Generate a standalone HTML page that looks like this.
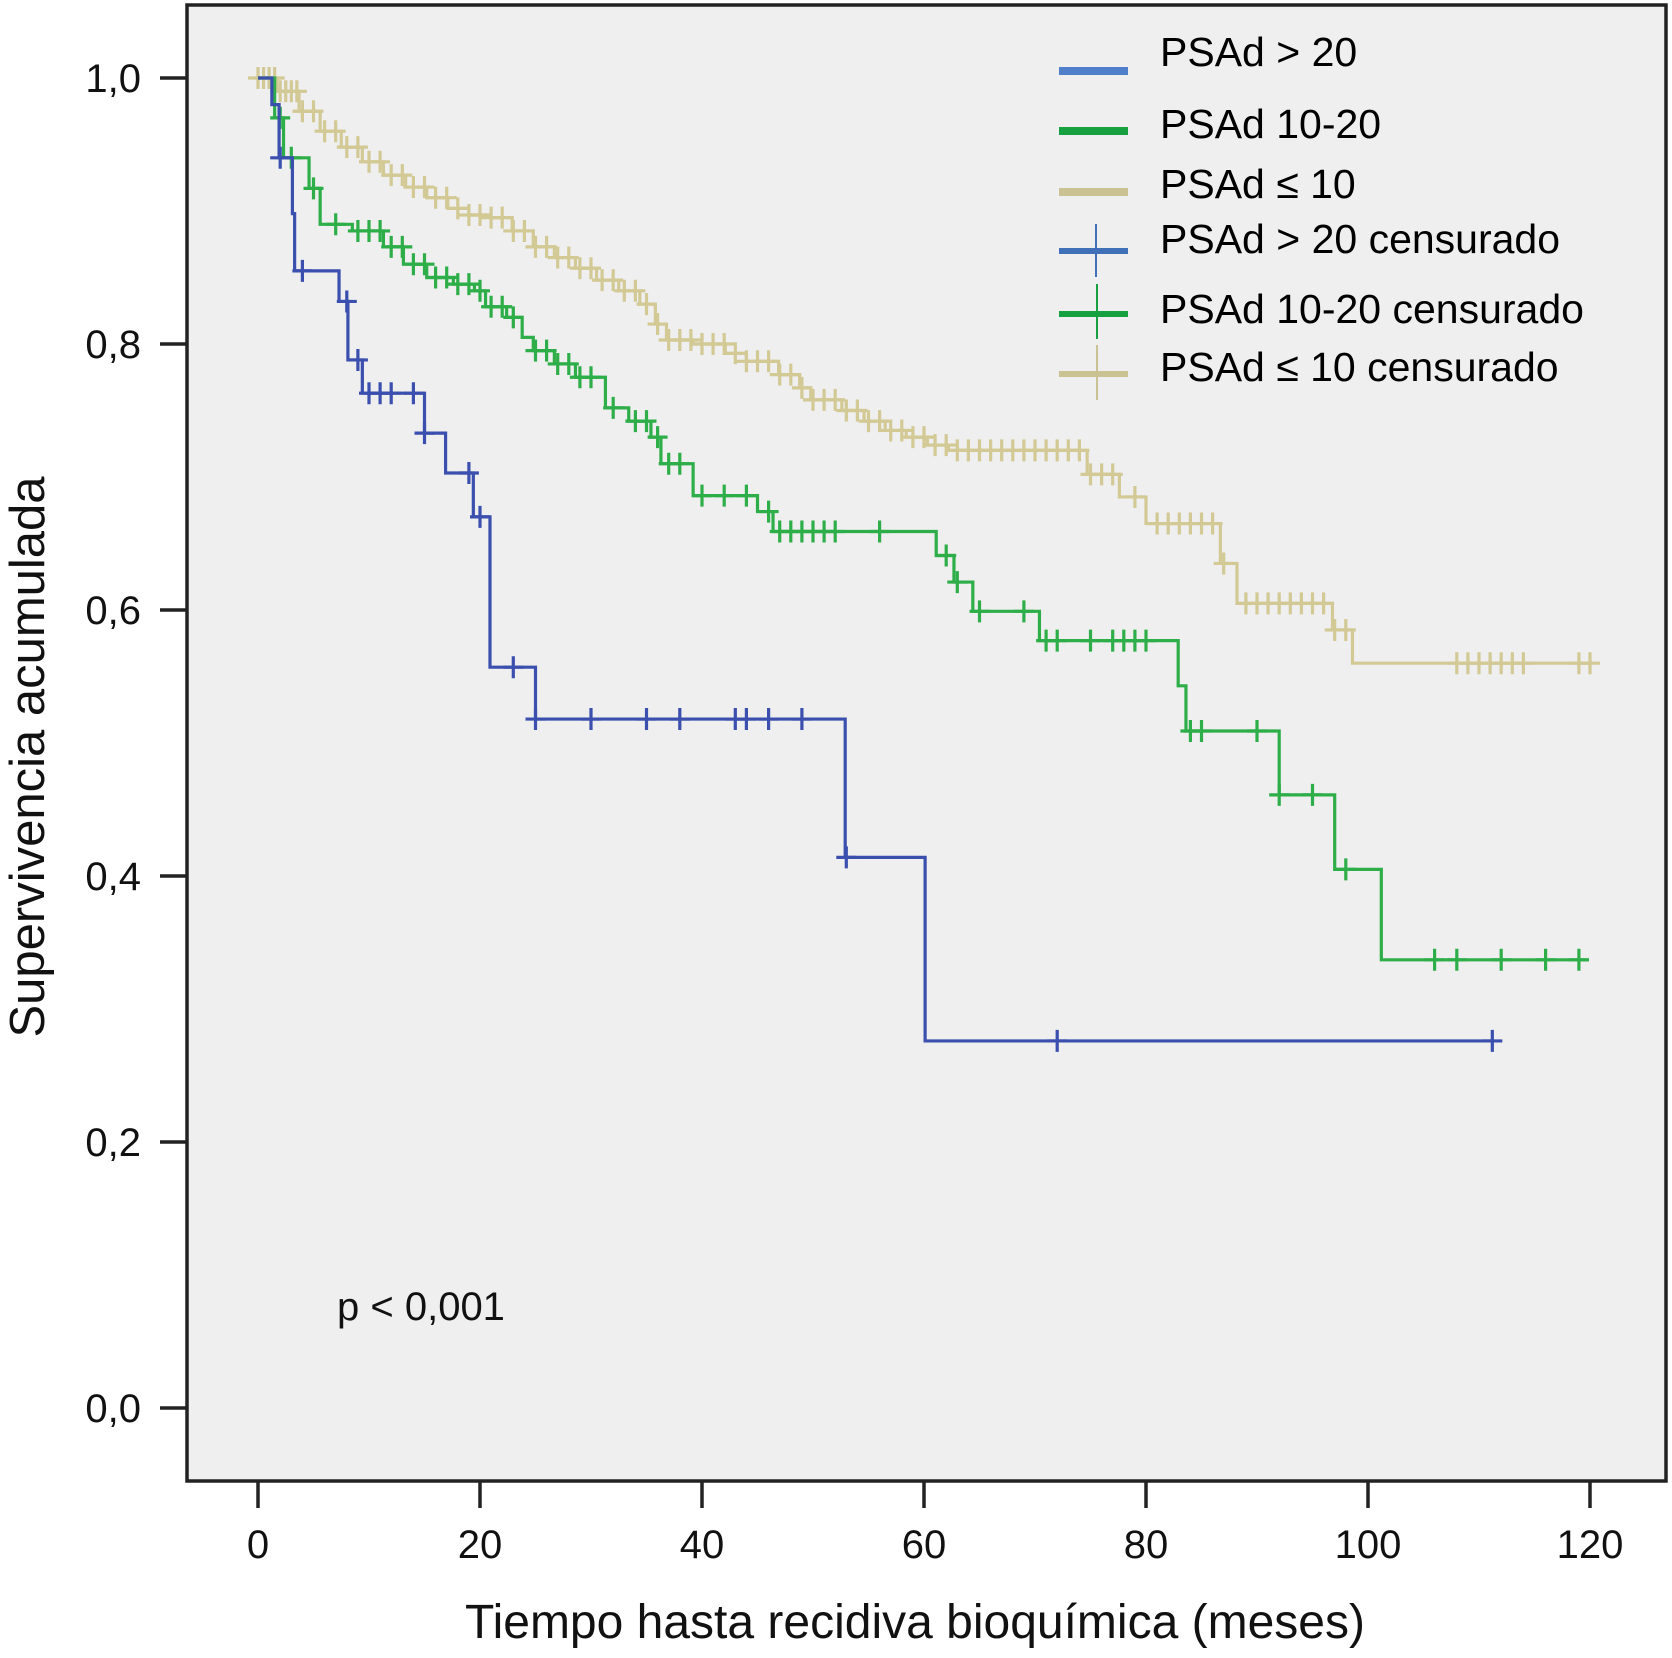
<!DOCTYPE html>
<html><head><meta charset="utf-8"><style>
html,body{margin:0;padding:0;background:#fff;}
svg{display:block;font-family:"Liberation Sans",sans-serif;}
</style></head><body>
<svg id="chart" width="1672" height="1658" viewBox="0 0 1672 1658" xmlns="http://www.w3.org/2000/svg">
<rect x="187" y="5" width="1479" height="1476" fill="#efefef" stroke="#222" stroke-width="3.5"/>
<g id="axes"></g>
<g id="series"></g>
<text x="337" y="1320" font-size="40" fill="#111">p &lt; 0,001</text>
<text x="915" y="1638" font-size="48" text-anchor="middle" fill="#111">Tiempo hasta recidiva bioquímica (meses)</text>
<text transform="translate(44,757) rotate(-90)" font-size="49" text-anchor="middle" fill="#111">Supervivencia acumulada</text>
<g>
<line x1="1059" y1="71" x2="1128" y2="71" stroke="#4f7fc8" stroke-width="8"/>
<text x="1160" y="66" font-size="41">PSAd &gt; 20</text>
<line x1="1059" y1="131" x2="1128" y2="131" stroke="#16a040" stroke-width="8"/>
<text x="1160" y="138" font-size="41">PSAd 10-20</text>
<line x1="1059" y1="192" x2="1128" y2="192" stroke="#cbc294" stroke-width="8"/>
<text x="1160" y="198" font-size="41">PSAd ≤ 10</text>
<line x1="1059" y1="251" x2="1128" y2="251" stroke="#4070b8" stroke-width="6"/>
<line x1="1096" y1="224" x2="1096" y2="277" stroke="#4070b8" stroke-width="2"/>
<text x="1160" y="253" font-size="41">PSAd &gt; 20 censurado</text>
<line x1="1059" y1="314" x2="1128" y2="314" stroke="#16a040" stroke-width="6"/>
<line x1="1097" y1="284" x2="1097" y2="339" stroke="#16a040" stroke-width="2"/>
<text x="1160" y="323" font-size="41">PSAd  10-20 censurado</text>
<line x1="1059" y1="374" x2="1128" y2="374" stroke="#cbc294" stroke-width="6"/>
<line x1="1097" y1="345" x2="1097" y2="400" stroke="#cbc294" stroke-width="2"/>
<text x="1160" y="381" font-size="41">PSAd ≤ 10 censurado</text>
</g>
</svg>
<script>
const xTicks = [0, 20, 40, 60, 80, 100, 120];
const yTicks = [0, 0.2, 0.4, 0.6, 0.8, 1.0];
const yTickLabels = ["0,0", "0,2", "0,4", "0,6", "0,8", "1,0"];

const highTimes = [0, 1.25, 1.9, 3.1, 3.3, 7.3, 8.1, 9.4, 15, 16.9, 19.4, 20.9, 25, 52.9, 60.1, 111.2];
const highSurv  = [1.0, 0.98, 0.94, 0.898, 0.855, 0.832, 0.788, 0.763, 0.733, 0.703, 0.67, 0.557, 0.518, 0.414, 0.276, 0.276];
const highCensor = [2, 4, 8, 9, 10, 11, 12, 14, 15, 19, 20, 23, 25, 30, 35, 38, 43, 44, 46, 49, 53, 72, 111.2];

const midTimes = [0, 1.5, 2.3, 4.6, 5.6, 8.5, 11.3, 13.1, 15.2, 17.6, 19.5, 20.5, 22.4, 23.8, 24.8, 26.7, 28.6, 31.3, 33.4, 35.4, 36.3, 39.2, 45, 46.4, 61.1, 62.7, 64.4, 70.4, 82.9, 83.6, 92, 97, 101.2, 119.9];
const midSurv  = [1.0, 0.97, 0.94, 0.917, 0.89, 0.885, 0.873, 0.86, 0.85, 0.845, 0.84, 0.828, 0.82, 0.805, 0.795, 0.785, 0.775, 0.752, 0.742, 0.73, 0.71, 0.686, 0.674, 0.659, 0.641, 0.621, 0.599, 0.577, 0.543, 0.509, 0.461, 0.405, 0.337, 0.337];
const midCensor = [2, 3, 5, 7, 9, 10, 11, 12, 13, 14, 15, 16, 17, 18, 19, 20, 21, 22, 23, 25, 26, 27, 28, 29, 30, 32, 34, 35, 36, 37, 38, 40, 42, 44, 46, 47, 48, 49, 50, 51, 52, 56, 62, 63, 65, 69, 71, 72, 75, 77, 78, 79, 80, 84, 85, 90, 92, 95, 98, 106, 108, 112, 116, 119];

const lowTimes = [0, 1.7, 3.7, 5.6, 7.5, 9.4, 11.3, 13.3, 15.2, 17.1, 19, 20.9, 22.9, 24.8, 26.7, 28.6, 30.5, 32.5, 34.4, 35.8, 36.8, 39.2, 42.1, 44, 46.9, 48.8, 49.8, 52.6, 54.6, 56.5, 58.4, 60.3, 62.2, 74.7, 77.6, 80, 86.7, 88.2, 96.8, 98.6, 120];
const lowSurv  = [1.0, 0.99, 0.975, 0.96, 0.948, 0.937, 0.927, 0.918, 0.91, 0.902, 0.897, 0.895, 0.885, 0.873, 0.865, 0.857, 0.848, 0.84, 0.83, 0.815, 0.803, 0.8, 0.793, 0.787, 0.777, 0.767, 0.758, 0.75, 0.742, 0.735, 0.73, 0.724, 0.72, 0.702, 0.685, 0.665, 0.635, 0.605, 0.585, 0.56, 0.56];
const lowCensor = [0, 0.5, 1, 1.5, 2, 2.5, 3, 3.5, 4, 5, 6, 7, 8, 9, 10, 11, 12, 13, 14, 15, 16, 17, 18, 19, 20, 21, 22, 23, 24, 25, 26, 27, 28, 29, 30, 31, 32, 33, 34, 35, 36, 37, 38, 39, 40, 41, 42, 43, 44, 45, 46, 47, 48, 49, 50, 51, 52, 53, 54, 55, 56, 57, 58, 59, 60, 61, 62, 63, 64, 65, 66, 67, 68, 69, 70, 71, 72, 73, 74, 75, 76, 77, 79, 81, 82, 83, 84, 85, 86, 87, 89, 90, 91, 92, 93, 94, 95, 96, 97, 98, 108, 109, 110, 111, 112, 113, 114, 119, 120];

const NS = "http://www.w3.org/2000/svg";
const X0 = 258, X1 = 1590, Y0 = 1408, Y1 = 78;
function xScale(m) { return X0 + m * (X1 - X0) / 120; }
function yScale(s) { return Y0 - s * (Y0 - Y1); }
function mk(tag, attrs) { const e = document.createElementNS(NS, tag); for (const k in attrs) e.setAttribute(k, attrs[k]); return e; }

const axes = document.getElementById("axes");
xTicks.forEach(t => {
  const x = xScale(t);
  const l = mk("line", {x1: x, y1: 1481, x2: x, y2: 1508, stroke: "#222", "stroke-width": 3.5});
  
  
  axes.appendChild(l);
  const tx = mk("text", {x: x, y: 1558, "font-size": 40, "text-anchor": "middle", fill: "#111"});
  
  
  tx.textContent = t;
  axes.appendChild(tx);
});
yTicks.forEach((t, i) => {
  const y = yScale(t);
  const l = mk("line", {x1: 160, y1: y, x2: 187, y2: y, stroke: "#222", "stroke-width": 3.5});
  
  
  axes.appendChild(l);
  const tx = mk("text", {x: 141, y: y + 14, "font-size": 40, "text-anchor": "end", fill: "#111"});
  
  
  tx.textContent = yTickLabels[i];
  axes.appendChild(tx);
});

function survAt(times, surv, t) {
  let s = surv[0];
  for (let i = 0; i < times.length; i++) { if (times[i] <= t) s = surv[i]; }
  return s;
}
const seriesG = document.getElementById("series");
function drawSeries(name, times, surv, censor, color) {
  let d = "M" + xScale(times[0]) + "," + yScale(surv[0]);
  for (let i = 1; i < times.length; i++) {
    d += " H" + xScale(times[i]) + " V" + yScale(surv[i]);
  }
  const p = mk("path", {d: d, fill: "none", stroke: color, "stroke-width": 3.2});
  
  
  seriesG.appendChild(p);
  censor.forEach(t => {
    const x = xScale(t), y = yScale(survAt(times, surv, t));
    const g = mk("path", {d: "M" + (x - 10) + "," + y + " H" + (x + 10) + " M" + x + "," + (y - 11) + " V" + (y + 11), stroke: color, "stroke-width": 3.2, fill: "none"});
    
    
    seriesG.appendChild(g);
  });
}
drawSeries("psad-low", lowTimes, lowSurv, lowCensor, "#d2c995");
drawSeries("psad-mid", midTimes, midSurv, midCensor, "#2eae48");
drawSeries("psad-high", highTimes, highSurv, highCensor, "#3a4fae");
</script>
</body></html>
